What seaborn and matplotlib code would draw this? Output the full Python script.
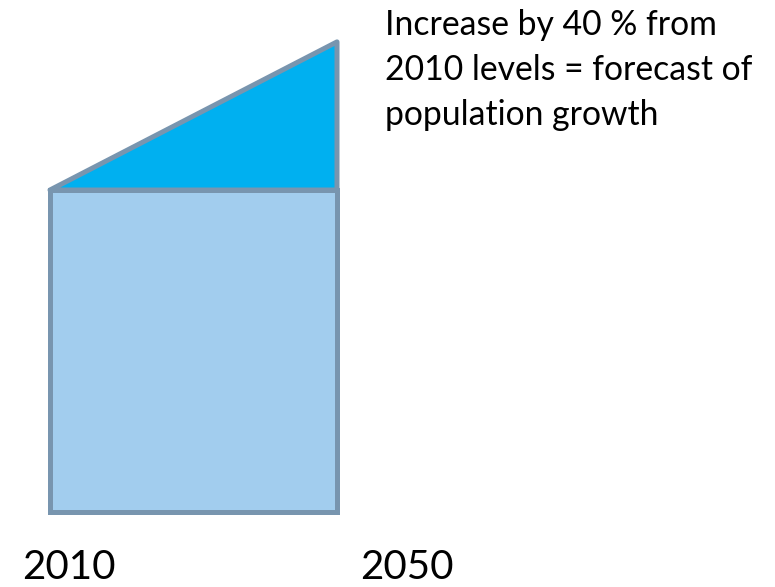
import matplotlib
matplotlib.use("Agg")
import matplotlib.pyplot as plt
import seaborn as sns
import pandas as pd

# values (2010 level = 100)
years = ["2010", "2050"]
base_level = 100
level_2050 = 146
note_lines = ["Increase by 40 % from", "2010 levels = forecast of", "population growth"]

sns.set_style("white")
plt.rcParams['font.family'] = ['Lato', 'DejaVu Sans']

fig = plt.figure(figsize=(7.75, 5.87), dpi=100)
ax = fig.add_axes([0, 0, 1, 1])

edge = "#7895AF"
df = pd.DataFrame({"year": [years[0]], "level": [base_level]})
sns.barplot(data=df, x="year", y="level", width=1, color="#A2CDEE",
            saturation=1, edgecolor=edge, linewidth=3.6, ax=ax)

# growth wedge on top of the 2010 box
ax.fill([-0.5, 0.5, 0.5], [base_level, level_2050, base_level],
        color="#00B0F0", ec=edge, lw=3.6, joinstyle="round")

ax.set_xlim(-0.5 - 50 / 287, -0.5 + 725 / 287)
ax.set_ylim(-75 / 3.22, 512 / 3.22)
ax.axis("off")

ax.text(-0.5976, -20.8, years[0], fontsize=29, va="baseline", ha="left", color="black")
ax.text(0.58, -20.8, years[1], fontsize=29, va="baseline", ha="left", color="black")
for i, line in enumerate(note_lines):
    ax.text(0.667, 148 - i * 45 / 3.22, line, fontsize=24.3, va="baseline",
            ha="left", color="black")

fig.savefig("out.png", dpi=100)
